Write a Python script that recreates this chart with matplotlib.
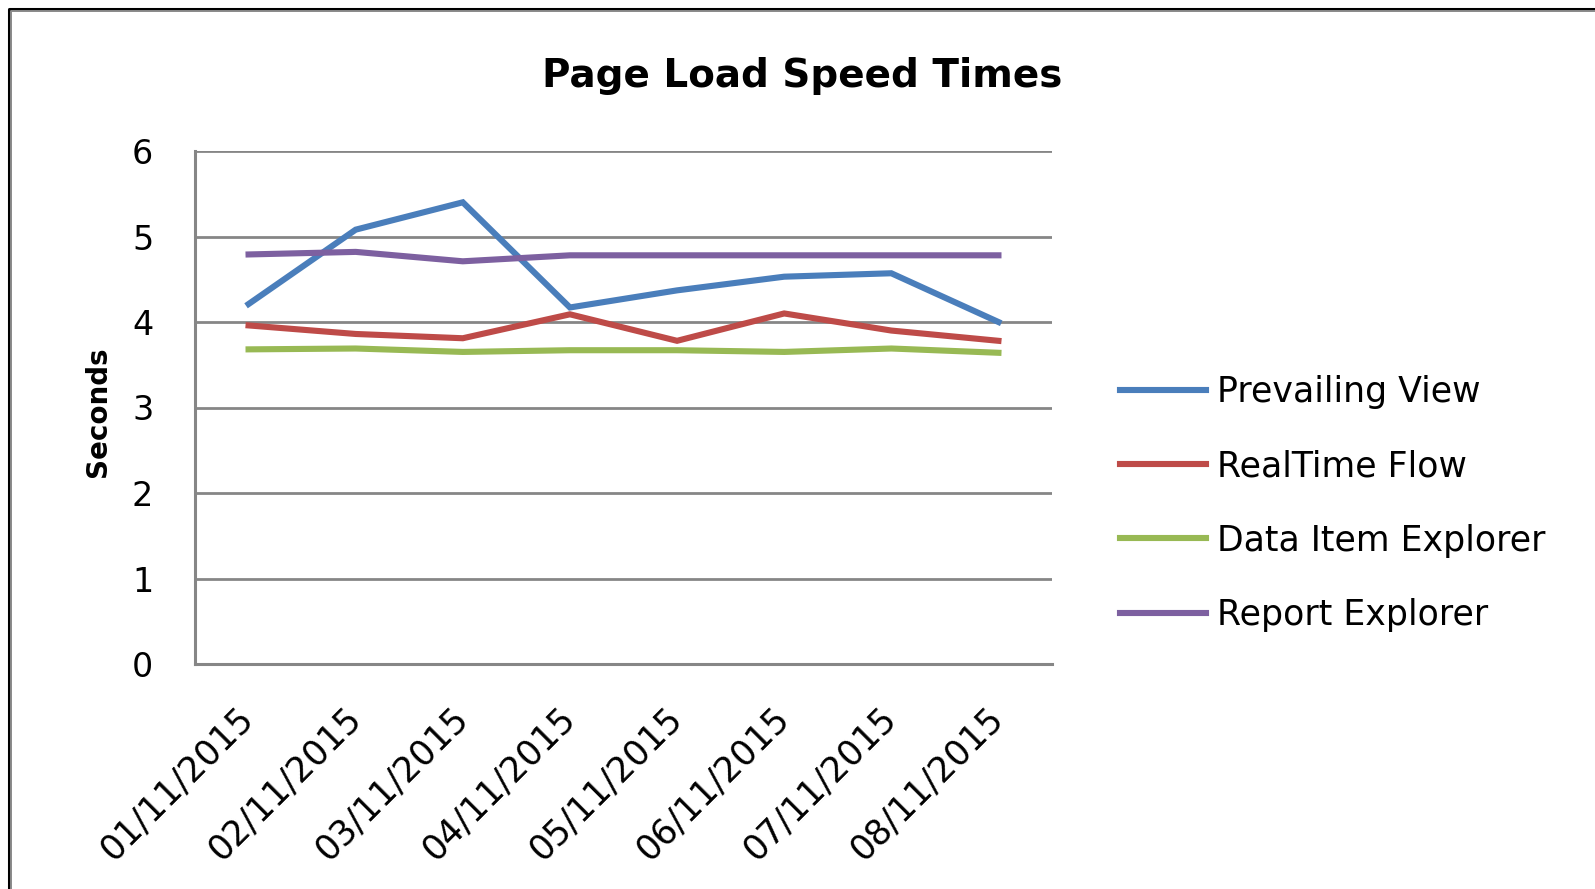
import matplotlib.pyplot as plt
from matplotlib.lines import Line2D

# chart data
dates = ["01/11/2015", "02/11/2015", "03/11/2015", "04/11/2015",
         "05/11/2015", "06/11/2015", "07/11/2015", "08/11/2015"]
prevailing_view = [4.21, 5.08, 5.40, 4.17, 4.37, 4.53, 4.57, 4.00]
realtime_flow = [3.96, 3.86, 3.81, 4.09, 3.78, 4.10, 3.90, 3.78]
data_item_explorer = [3.68, 3.69, 3.65, 3.67, 3.67, 3.65, 3.69, 3.64]
report_explorer = [4.79, 4.82, 4.71, 4.78, 4.78, 4.78, 4.78, 4.78]
y_ticks = [0, 1, 2, 3, 4, 5, 6]

plt.rcParams['font.family'] = ['DejaVu Sans']

W, H = 1595, 889
fig = plt.figure(figsize=(W / 100, H / 100), dpi=100)

# plot area in pixels
left, right, top, bottom = 195, 1052, 151, 664
ax = fig.add_axes([left / W, 1 - bottom / H, (right - left) / W, (bottom - top) / H])

series = [
    ("Prevailing View", prevailing_view, "#4A7EBB"),
    ("RealTime Flow", realtime_flow, "#BE4B48"),
    ("Data Item Explorer", data_item_explorer, "#98B954"),
    ("Report Explorer", report_explorer, "#7D60A0"),
]
x = list(range(len(dates)))
for name, vals, col in series:
    ax.plot(x, vals, color=col, lw=4.4, label=name, solid_joinstyle='miter', zorder=3)

ax.set_xlim(-0.5, len(dates) - 0.5)
ax.set_ylim(0, 6)
ax.set_yticks(y_ticks)
ax.set_yticklabels([str(v) for v in y_ticks], fontsize=24)
ax.set_xticks(x)
ax.set_xticklabels(dates, fontsize=25, rotation=45, ha='right', va='center',
                   rotation_mode='anchor')
ax.tick_params(axis='x', length=0, pad=35)
ax.tick_params(axis='y', length=0, pad=30)

ax.grid(axis='y', color='#868686', lw=2.0, zorder=1)
for s in ['top', 'right']:
    ax.spines[s].set_visible(False)
for s in ['left', 'bottom']:
    ax.spines[s].set_color('#868686')
    ax.spines[s].set_linewidth(2.2)

ax.set_ylabel("Seconds", fontsize=20, fontweight='bold')
ax.yaxis.set_label_coords((112 - left) / (right - left), (bottom - 412) / (bottom - top))

fig.text(802 / W, 1 - 76 / H, "Page Load Speed Times", fontsize=28, fontweight='bold',
         ha='center', va='center')

fig.legend(loc='upper left', bbox_to_anchor=(1120 / W, 1 - 375 / H), frameon=False,
           fontsize=25, handlelength=2.48, handletextpad=0.3, labelspacing=1.16,
           borderpad=0, borderaxespad=0)

# chart border (top and left edges visible)
fig.add_artist(Line2D([8.5 / W, 8.5 / W, 1.01], [-0.01, 1 - 8.5 / H, 1 - 8.5 / H],
                      transform=fig.transFigure, color='black', lw=2.2))
fig.add_artist(Line2D([11 / W, 11 / W, 1.01], [-0.01, 1 - 11 / H, 1 - 11 / H],
                      transform=fig.transFigure, color='#8a8a8a', lw=1.4))

fig.savefig("out.png", dpi=100)
